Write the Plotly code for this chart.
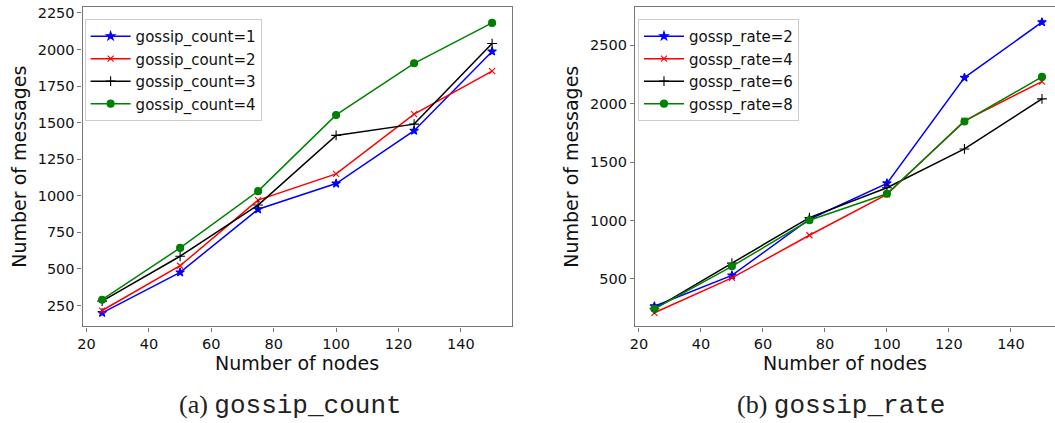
import plotly.graph_objects as go

nodes = [25, 50, 75, 100, 125, 150]

count_labels = ["gossip_count=1", "gossip_count=2", "gossip_count=3", "gossip_count=4"]
count_1 = [200, 477, 908, 1084, 1445, 1987]
count_2 = [216, 522, 971, 1150, 1558, 1853]
count_3 = [280, 587, 937, 1413, 1490, 2041]
count_4 = [290, 644, 1032, 1553, 1906, 2182]

rate_labels = ["gossp_rate=2", "gossp_rate=4", "gossp_rate=6", "gossp_rate=8"]
rate_2 = [267, 531, 1011, 1318, 2222, 2696]
rate_4 = [211, 509, 874, 1223, 1853, 2188]
rate_6 = [245, 636, 1025, 1280, 1612, 2040]
rate_8 = [245, 608, 1002, 1229, 1847, 2228]

xticks = [20, 40, 60, 80, 100, 120, 140]
yticks_a = [250, 500, 750, 1000, 1250, 1500, 1750, 2000, 2250]
yticks_b = [500, 1000, 1500, 2000, 2500]

colors = ["#0000ff", "#ff0000", "#000000", "#008000"]
symbols = ["star", "x-thin-open", "cross-thin-open", "circle"]
msizes = [6.5, 6, 7, 7]

W, H = 1055, 423
def px_x(p):
    return p / W
def px_y(p):
    return 1 - p / H

fig = go.Figure()

for i, (lab, ys) in enumerate(zip(count_labels, [count_1, count_2, count_3, count_4])):
    fig.add_trace(go.Scatter(
        x=nodes, y=ys, name=lab, mode="lines+markers",
        line=dict(color=colors[i], width=1.5),
        marker=dict(symbol=symbols[i], size=msizes[i], color=colors[i],
                    line=dict(color=colors[i], width=1.1)),
        xaxis="x", yaxis="y", legend="legend"))

for i, (lab, ys) in enumerate(zip(rate_labels, [rate_2, rate_4, rate_6, rate_8])):
    fig.add_trace(go.Scatter(
        x=nodes, y=ys, name=lab, mode="lines+markers",
        line=dict(color=colors[i], width=1.5),
        marker=dict(symbol=symbols[i], size=msizes[i], color=colors[i],
                    line=dict(color=colors[i], width=1.1)),
        xaxis="x2", yaxis="y2", legend="legend2"))

spine = "#777777"
tickfont = dict(family="DejaVu Sans", size=14.5, color="#111111")
titlefont = dict(family="DejaVu Sans", size=19, color="#111111")

common_axis = dict(showline=True, linecolor=spine, linewidth=1.3, showgrid=False,
                   zeroline=False, ticks="outside", ticklen=4, tickcolor=spine,
                   tickwidth=1, tickfont=tickfont)

legend_common = dict(xanchor="left", yanchor="top", bgcolor="white",
                     bordercolor="#cccccc", borderwidth=1, itemwidth=40,
                     font=dict(family="DejaVu Sans", size=15, color="#111111"))

fig.update_layout(
    width=W, height=H,
    margin=dict(l=0, r=0, t=0, b=0),
    paper_bgcolor="white", plot_bgcolor="white",
    showlegend=True,
    xaxis=dict(domain=[px_x(78), px_x(509)], range=[18.75, 156.25],
               tickvals=xticks, mirror=True, anchor="y",
               title=dict(text="Number of nodes", font=titlefont, standoff=4),
               **common_axis),
    yaxis=dict(domain=[px_y(326), px_y(5)], range=[107, 2291],
               tickvals=yticks_a, mirror=True, anchor="x",
               title=dict(text="Number of messages", font=titlefont, standoff=6),
               **common_axis),
    xaxis2=dict(domain=[px_x(633), 1.0], range=[18.75, 154.2],
                tickvals=xticks, mirror=True, anchor="y2",
                title=dict(text="Number of nodes", font=titlefont, standoff=4),
                **common_axis),
    yaxis2=dict(domain=[px_y(326), px_y(5)], range=[94, 2826],
                tickvals=yticks_b, mirror=False, anchor="x2",
                title=dict(text="Number of messages", font=titlefont, standoff=6),
                **common_axis),
    legend=dict(x=px_x(80), y=px_y(17), **legend_common),
    legend2=dict(x=px_x(636), y=px_y(17), **legend_common),
)

cap_font = dict(family="Liberation Mono", size=26, color="#222222")
fig.add_annotation(
    x=px_x(287), y=px_y(405), xref="paper", yref="paper",
    xanchor="center", yanchor="middle", showarrow=False, borderpad=0,
    text="<span style='font-family:Liberation Serif'>(a) </span>gossip_count",
    font=cap_font)
fig.add_annotation(
    x=px_x(840), y=px_y(405), xref="paper", yref="paper",
    xanchor="center", yanchor="middle", showarrow=False, borderpad=0,
    text="<span style='font-family:Liberation Serif'>(b) </span>gossip_rate",
    font=cap_font)

fig.write_html("out.html", config={"displayModeBar": False},
               post_script="document.body.style.margin='0';document.body.style.overflow='hidden';")
